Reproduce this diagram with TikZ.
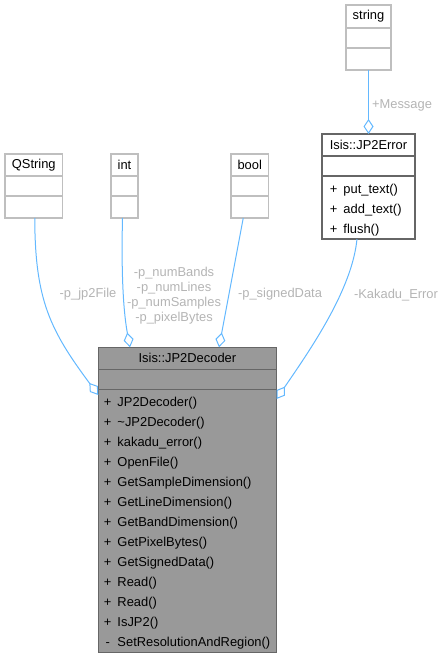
\documentclass[tikz,border=0pt]{standalone}
\usepackage{fontspec}
\setmainfont{Liberation Sans}
\usetikzlibrary{positioning,arrows.meta}
\definecolor{edgeblue}{HTML}{63B8FF}
\definecolor{lightframe}{HTML}{BFBFBF}
\definecolor{darkframe}{HTML}{666666}
\definecolor{focusfill}{HTML}{999999}
\definecolor{labelgray}{HTML}{B4B4B4}
\newcommand{\umlfont}{\fontsize{12.9}{20}\selectfont}
\newcommand{\umlop}[2]{\makebox[7.5pt][c]{#1}\hspace{6pt}#2}
\newcommand{\firststrut}{\rule{0pt}{17pt}}
\newcommand{\laststrut}{\rule[-6pt]{0pt}{6pt}}
\tikzset{
  umlhead/.style={draw=lightframe, fill=white, line width=1.1pt, outer sep=0pt, inner sep=0pt, font=\umlfont, align=center},
  umlpart/.style={draw=lightframe, fill=white, line width=1.1pt, outer sep=0pt, inner sep=0pt, minimum height=20pt},
  umlops/.style={draw=lightframe, fill=white, line width=1.1pt, outer sep=0pt, inner ysep=0pt, font=\umlfont, align=left},
  linked/.style={draw=darkframe},
  focus/.style={draw=darkframe, fill=focusfill},
  aggr/.style={draw=edgeblue, line width=1pt, -{Diamond[open, length=15pt, width=10pt]}},
  rolelabel/.style={text=labelgray, font=\umlfont, align=center, inner sep=0pt}
}

\begin{document}
\begin{tikzpicture}[x=1pt, y=-1pt]
  \useasboundingbox (0,0) rectangle (444,658);

  \node[umlhead, minimum width=57.5pt, minimum height=22pt] (qstring) at (33.75,165) {QString};
  \node[umlpart, minimum width=57.5pt, below=0pt of qstring] (qstringattr) {};
  \node[umlpart, minimum width=57.5pt, minimum height=22pt, below=0pt of qstringattr] (qstringops) {};

  \node[umlhead, minimum width=27pt, minimum height=22pt] (int) at (124.5,165) {int};
  \node[umlpart, minimum width=27pt, below=0pt of int] (intattr) {};
  \node[umlpart, minimum width=27pt, minimum height=22pt, below=0pt of intattr] (intops) {};

  \node[umlhead, minimum width=37.5pt, minimum height=22pt] (bool) at (249.75,165) {bool};
  \node[umlpart, minimum width=37.5pt, below=0pt of bool] (boolattr) {};
  \node[umlpart, minimum width=37.5pt, minimum height=22pt, below=0pt of boolattr] (boolops) {};

  \node[umlhead, minimum width=45pt, minimum height=23pt] (string) at (368.5,16.5) {string};
  \node[umlpart, minimum width=45pt, below=0pt of string] (stringattr) {};
  \node[umlpart, minimum width=45pt, minimum height=22pt, below=0pt of stringattr] (stringops) {};

  \node[umlhead, linked, minimum width=93pt, minimum height=22pt] (error) at (368.5,145) {Isis::JP2Error};
  \node[umlpart, linked, minimum width=93pt, below=0pt of error] (errorattr) {};
  \node[umlops, linked, inner xsep=8pt, text width=77pt, minimum height=63pt, below=0pt of errorattr] (errorops)
    {\firststrut\umlop{+}{put\_text()}\\ \umlop{+}{add\_text()}\\ \umlop{+}{flush()}\laststrut};

  \node[umlhead, focus, minimum width=178.2pt, minimum height=22pt] (decoder) at (187.4,358.3) {Isis::JP2Decoder};
  \node[umlpart, focus, minimum width=178.2pt, below=0pt of decoder] (decoderattr) {};
  \node[umlops, focus, inner xsep=5.7pt, text width=166.8pt, minimum height=263pt, below=0pt of decoderattr] (decoderops)
    {\firststrut\umlop{+}{JP2Decoder()}\\ \umlop{+}{\textasciitilde JP2Decoder()}\\ \umlop{+}{kakadu\_error()}\\
     \umlop{+}{OpenFile()}\\ \umlop{+}{GetSampleDimension()}\\ \umlop{+}{GetLineDimension()}\\
     \umlop{+}{GetBandDimension()}\\ \umlop{+}{GetPixelBytes()}\\ \umlop{+}{GetSignedData()}\\
     \umlop{+}{Read()}\\ \umlop{+}{Read()}\\ \umlop{+}{IsJP2()}\\ \umlop{-}{SetResolutionAndRegion()}\laststrut};

  \draw[aggr] ([xshift=1pt]qstringops.south) .. controls (35,300) and (50,330) .. ([yshift=-5.7pt]decoderops.north west);
  \draw[aggr] ([xshift=-2pt]intops.south) .. controls (121,280) and (124,315) .. ([xshift=31.7pt]decoder.north west);
  \draw[aggr] ([xshift=-6.5pt]boolops.south) -- ([xshift=120.7pt]decoder.north west);
  \draw[aggr] (stringops.south) -- (error.north);
  \draw[aggr] ([xshift=-11.5pt]errorops.south) .. controls (352,290) and (310,350) .. ([yshift=-9.7pt]decoderops.north east);

  \node[rolelabel] (jp2filelbl) at (88,294.5) {-p\_jp2File};
  \node[rolelabel, font=\fontsize{12.9}{15}\selectfont] (dimlbl) at (174,295.2)
    {-p\_numBands\\-p\_numLines\\-p\_numSamples\\-p\_pixelBytes};
  \node[rolelabel] (signedlbl) at (280,294.5) {-p\_signedData};
  \node[rolelabel] (kakadulbl) at (396,294.8) {-Kakadu\_Error};
  \node[rolelabel] (messagelbl) at (402,105) {+Message};
\end{tikzpicture}
\end{document}
